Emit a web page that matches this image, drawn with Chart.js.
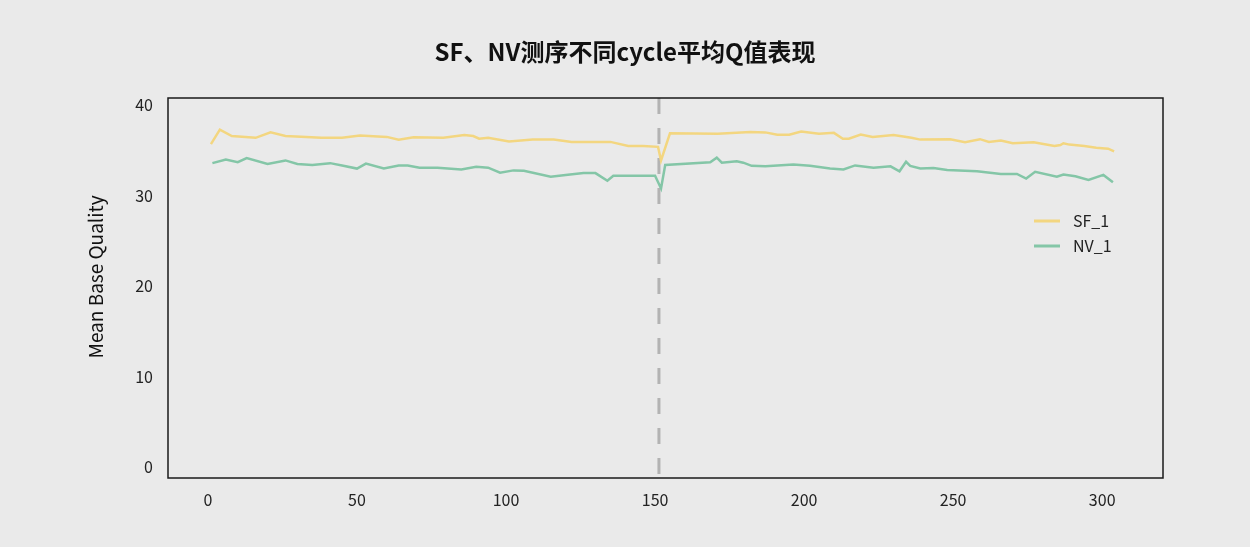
<!DOCTYPE html>
<html>
<head>
<meta charset="utf-8">
<script src="https://cdn.jsdelivr.net/npm/chart.js@4.4.1/dist/chart.umd.min.js"></script>
<style>
  html, body { margin: 0; padding: 0; background: #eaeaea; }
  #wrap { width: 1250px; height: 547px; }
</style>
</head>
<body>
<div id="wrap"><canvas id="chart"></canvas></div>
<script>
// cycle positions and mean Q
const sfCycles = [1, 4, 8, 16, 21, 26, 33, 38, 45, 51, 60, 64, 69, 79, 86, 89, 91, 94, 101, 109, 116, 122, 135, 141, 146, 151, 152, 155, 171, 182, 187, 191, 195, 199, 205, 210, 213, 215, 219, 223, 230, 236, 239, 249, 254, 259, 262, 266, 270, 277, 284, 286, 287, 289, 294, 298, 302, 304];
const sfValues = [35.7, 37.3, 36.6, 36.4, 37.0, 36.6, 36.5, 36.4, 36.4, 36.65, 36.5, 36.2, 36.45, 36.4, 36.7, 36.6, 36.3, 36.4, 36.0, 36.2, 36.2, 35.95, 35.95, 35.5, 35.5, 35.4, 33.9, 36.9, 36.85, 37.05, 37.0, 36.75, 36.75, 37.1, 36.85, 36.95, 36.3, 36.3, 36.75, 36.5, 36.7, 36.4, 36.2, 36.25, 35.9, 36.25, 35.95, 36.1, 35.8, 35.9, 35.5, 35.6, 35.8, 35.65, 35.5, 35.3, 35.2, 34.9];

const nvCycles = [1.5, 6, 10, 13, 20, 26, 30, 35, 41, 45, 50, 53, 59, 64, 67, 71, 77, 85, 90, 94, 98, 102.5, 106, 115, 120, 126, 130, 134, 136, 150, 152, 153.4, 168.5, 170.7, 172.4, 177.4, 179.6, 182.4, 187, 196.4, 202, 208.7, 213.2, 217.1, 223.3, 229, 232, 234.2, 235.6, 239, 243.4, 248, 258, 266, 271.4, 274.5, 277.5, 284.8, 287, 291, 295.4, 300.4, 303.6];
const nvValues = [33.6, 34.0, 33.7, 34.15, 33.5, 33.9, 33.5, 33.4, 33.6, 33.35, 33.0, 33.55, 33.0, 33.35, 33.35, 33.1, 33.1, 32.9, 33.2, 33.1, 32.55, 32.8, 32.75, 32.1, 32.3, 32.5, 32.5, 31.65, 32.2, 32.2, 30.8, 33.4, 33.7, 34.2, 33.65, 33.8, 33.65, 33.3, 33.25, 33.45, 33.3, 33.0, 32.9, 33.35, 33.1, 33.25, 32.7, 33.75, 33.3, 33.0, 33.05, 32.85, 32.7, 32.4, 32.4, 31.9, 32.65, 32.1, 32.35, 32.15, 31.75, 32.3, 31.5];

const xTicks = [0, 50, 100, 150, 200, 250, 300];
const yTicks = [0, 10, 20, 30, 40];
const splitCycle = 151.3;
const seriesNames = ["SF_1", "NV_1"];
const seriesColors = ["#f3d680", "#84c6a7"];
const chartTitle = "SF、NV测序不同cycle平均Q值表现";
const yTitle = "Mean Base Quality";

const FONT = "'Noto Sans CJK SC', 'Noto Sans', sans-serif";

function toPoints(xs, ys) {
    return xs.map((x, i) => ({ x: x, y: ys[i] }));
}

// titles, frame around the plot, dashed split line, legend inside the plot
const extras = {
    id: "extras",
    beforeDatasetsDraw(chart) {
        const ctx = chart.ctx;
        const area = chart.chartArea;
        const px = chart.scales.x.getPixelForValue(splitCycle);
        ctx.save();
        ctx.strokeStyle = "#b3b3b3";
        ctx.lineWidth = 3;
        ctx.setLineDash([16, 14]);
        ctx.beginPath();
        ctx.moveTo(px, area.top);
        ctx.lineTo(px, area.bottom);
        ctx.stroke();
        ctx.restore();
    },
    afterDraw(chart) {
        const ctx = chart.ctx;
        const area = chart.chartArea;
        ctx.save();
        ctx.strokeStyle = "#1a1a1a";
        ctx.lineWidth = 1.5;
        ctx.strokeRect(area.left, area.top, area.right - area.left, area.bottom - area.top);

        // chart title, centred on the whole page
        ctx.fillStyle = "#111";
        ctx.textAlign = "center";
        ctx.textBaseline = "middle";
        ctx.font = "bold 24px " + FONT;
        ctx.fillText(chartTitle, chart.width / 2, 52);

        // y axis title
        ctx.save();
        ctx.translate(96, 277);
        ctx.rotate(-Math.PI / 2);
        ctx.font = "19px " + FONT;
        ctx.fillText(yTitle, 0, 0);
        ctx.restore();

        ctx.textAlign = "left";
        ctx.font = "16px " + FONT;
        ctx.fillStyle = "#222";
        seriesNames.forEach((name, i) => {
            const y = 221 + i * 25;
            ctx.strokeStyle = seriesColors[i];
            ctx.lineWidth = 3;
            ctx.beginPath();
            ctx.moveTo(1034, y);
            ctx.lineTo(1060, y);
            ctx.stroke();
            ctx.fillText(name, 1073, y);
        });
        ctx.restore();
    }
};

new Chart(document.getElementById("chart").getContext("2d"), {
    type: "line",
    data: {
        datasets: [
            {
                label: seriesNames[0],
                data: toPoints(sfCycles, sfValues),
                borderColor: seriesColors[0],
                borderWidth: 2.5,
                pointRadius: 0,
                tension: 0
            },
            {
                label: seriesNames[1],
                data: toPoints(nvCycles, nvValues),
                borderColor: seriesColors[1],
                borderWidth: 2.5,
                pointRadius: 0,
                tension: 0
            }
        ]
    },
    options: {
        responsive: true,
        maintainAspectRatio: false,
        animation: false,
        layout: { padding: { left: 0, right: 87, top: 98, bottom: 0 } },
        plugins: {
            legend: { display: false },
            tooltip: { enabled: false },
            title: { display: false }
        },
        scales: {
            x: {
                type: "linear",
                min: -13.4,
                max: 320.4,
                grid: { display: false, drawTicks: false },
                border: { display: false },
                afterBuildTicks: scale => { scale.ticks = xTicks.map(v => ({ value: v })); },
                afterFit: scale => { scale.height = 69; },
                ticks: {
                    padding: 12,
                    color: "#222",
                    maxRotation: 0,
                    font: { family: FONT, size: 16 }
                }
            },
            y: {
                type: "linear",
                min: -1.2,
                max: 40.8,
                grid: { display: false, drawTicks: false },
                border: { display: false },
                afterBuildTicks: scale => { scale.ticks = yTicks.map(v => ({ value: v })); },
                afterFit: scale => { scale.width = 168; },
                ticks: {
                    padding: 15,
                    color: "#222",
                    font: { family: FONT, size: 16 }
                }
            }
        }
    },
    plugins: [extras]
});
</script>
</body>
</html>
